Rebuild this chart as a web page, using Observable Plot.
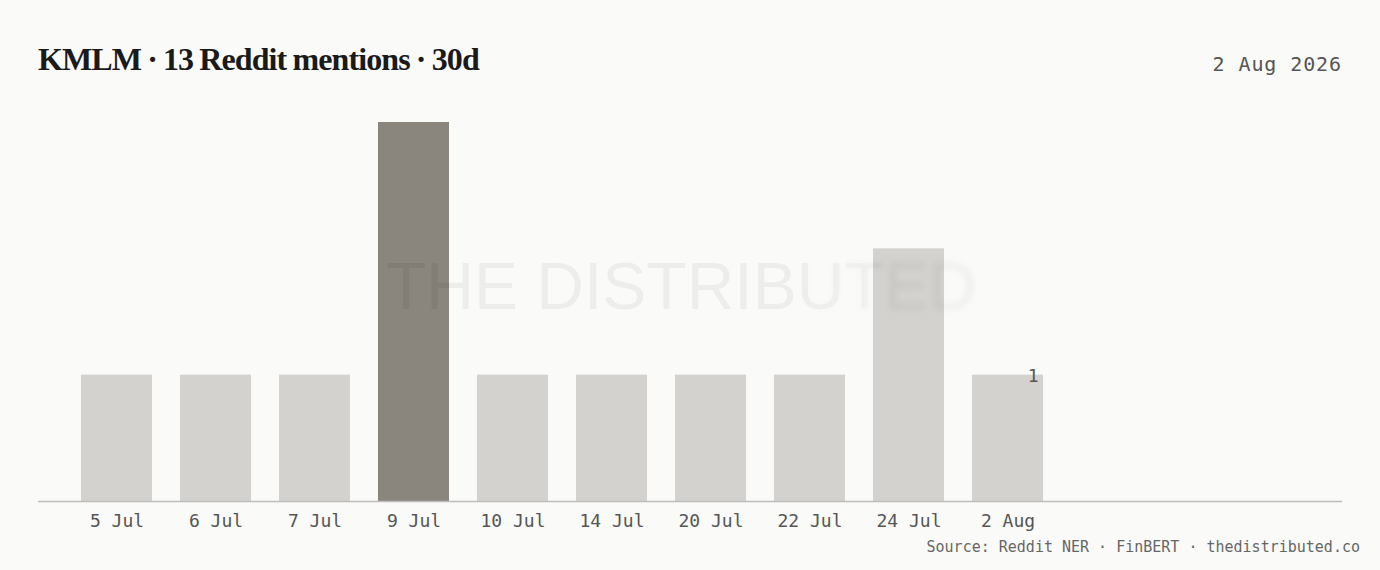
<!DOCTYPE html>
<html>
<head>
<meta charset="utf-8">
<script src="https://cdn.jsdelivr.net/npm/d3@7"></script>
<script src="https://cdn.jsdelivr.net/npm/@observablehq/plot@0.6"></script>
<style>
  html, body { margin: 0; padding: 0; background: #fafaf8; }
  #wrap { position: relative; width: 1380px; height: 570px; overflow: hidden; background: #fafaf8; }
  #title { position: absolute; left: 38px; top: 43px; font-family: "Liberation Serif", serif; font-weight: 700;
           font-size: 32px; line-height: 32px; letter-spacing: -0.9px; word-spacing: -1px; color: #1a1a1a; white-space: nowrap; }
  #date { position: absolute; right: 38px; top: 54px; font-family: "DejaVu Sans Mono", monospace; font-size: 20px;
          line-height: 20px; letter-spacing: 0.9px; color: #555; white-space: nowrap; }
  #chart { position: absolute; left: 0; top: 100px; }
  #caption { position: absolute; right: 20px; top: 540px; font-family: "DejaVu Sans Mono", monospace; font-size: 15px;
             line-height: 15px; color: #666; white-space: nowrap; }
  .wm { position: absolute; left: 386px; top: 253px; font-family: "Liberation Sans", Arial, sans-serif; font-size: 66px;
        line-height: 66px; color: rgba(0,0,0,0.05); white-space: nowrap; pointer-events: none; }
  #wm1 { -webkit-mask-image: linear-gradient(to right, #000 0px, #000 400px, transparent 520px);
         mask-image: linear-gradient(to right, #000 0px, #000 400px, transparent 520px); }
  #wm2 { filter: blur(3px);
         -webkit-mask-image: linear-gradient(to right, transparent 0px, transparent 400px, #000 520px);
         mask-image: linear-gradient(to right, transparent 0px, transparent 400px, #000 520px); }
</style>
</head>
<body>
<div id="wrap">
  <div id="title">KMLM · 13 Reddit mentions · 30d</div>
  <div id="date">2 Aug 2026</div>
  <div id="chart"></div>
  <div class="wm" id="wm1">THE DISTRIBUTED</div>
  <div class="wm" id="wm2" aria-hidden="true">THE DISTRIBUTED</div>
  <div id="caption">Source: Reddit NER · FinBERT · thedistributed.co</div>
</div>
<script>
const dates = ["5 Jul", "6 Jul", "7 Jul", "9 Jul", "10 Jul", "14 Jul", "20 Jul", "22 Jul", "24 Jul", "2 Aug"];
const mentions = [1, 1, 1, 3, 1, 1, 1, 1, 2, 1];
const highlightDate = "9 Jul";
const labelDates = ["2 Aug"];

const lightFill = "#d3d2ce";
const darkFill = "#8a857d";

const table = dates.map((d, i) => ({date: d, count: mentions[i]}));
const labelRows = table.filter(r => labelDates.includes(r.date));

const chart = Plot.plot({
  width: 1380,
  height: 440,
  marginLeft: 38,
  marginRight: 38,
  marginTop: 22,
  marginBottom: 39,
  style: {background: "transparent", fontFamily: "DejaVu Sans Mono, monospace", color: "#555", overflow: "visible"},
  x: {type: "band", domain: dates, range: [38, 1086], paddingInner: 0.2828, paddingOuter: 0.4343, axis: null, label: null},
  y: {domain: [0, 3], axis: null},
  marks: [
    Plot.barY(table, {x: "date", y: "count", fill: d => d.date === highlightDate ? darkFill : lightFill}),
    Plot.ruleY([0], {stroke: "#bdbdbb", strokeWidth: 1.5}),
    Plot.axisX({tickSize: 0, tickPadding: 13, fontSize: 18, fill: "#555", label: null}),
    Plot.text(labelRows, {x: "date", y: "count", text: d => String(d.count), textAnchor: "end", lineAnchor: "middle",
                          dx: 30.5, dy: 1, fontSize: 18, fill: "#555"})
  ]
});
document.getElementById("chart").appendChild(chart);
</script>
</body>
</html>
